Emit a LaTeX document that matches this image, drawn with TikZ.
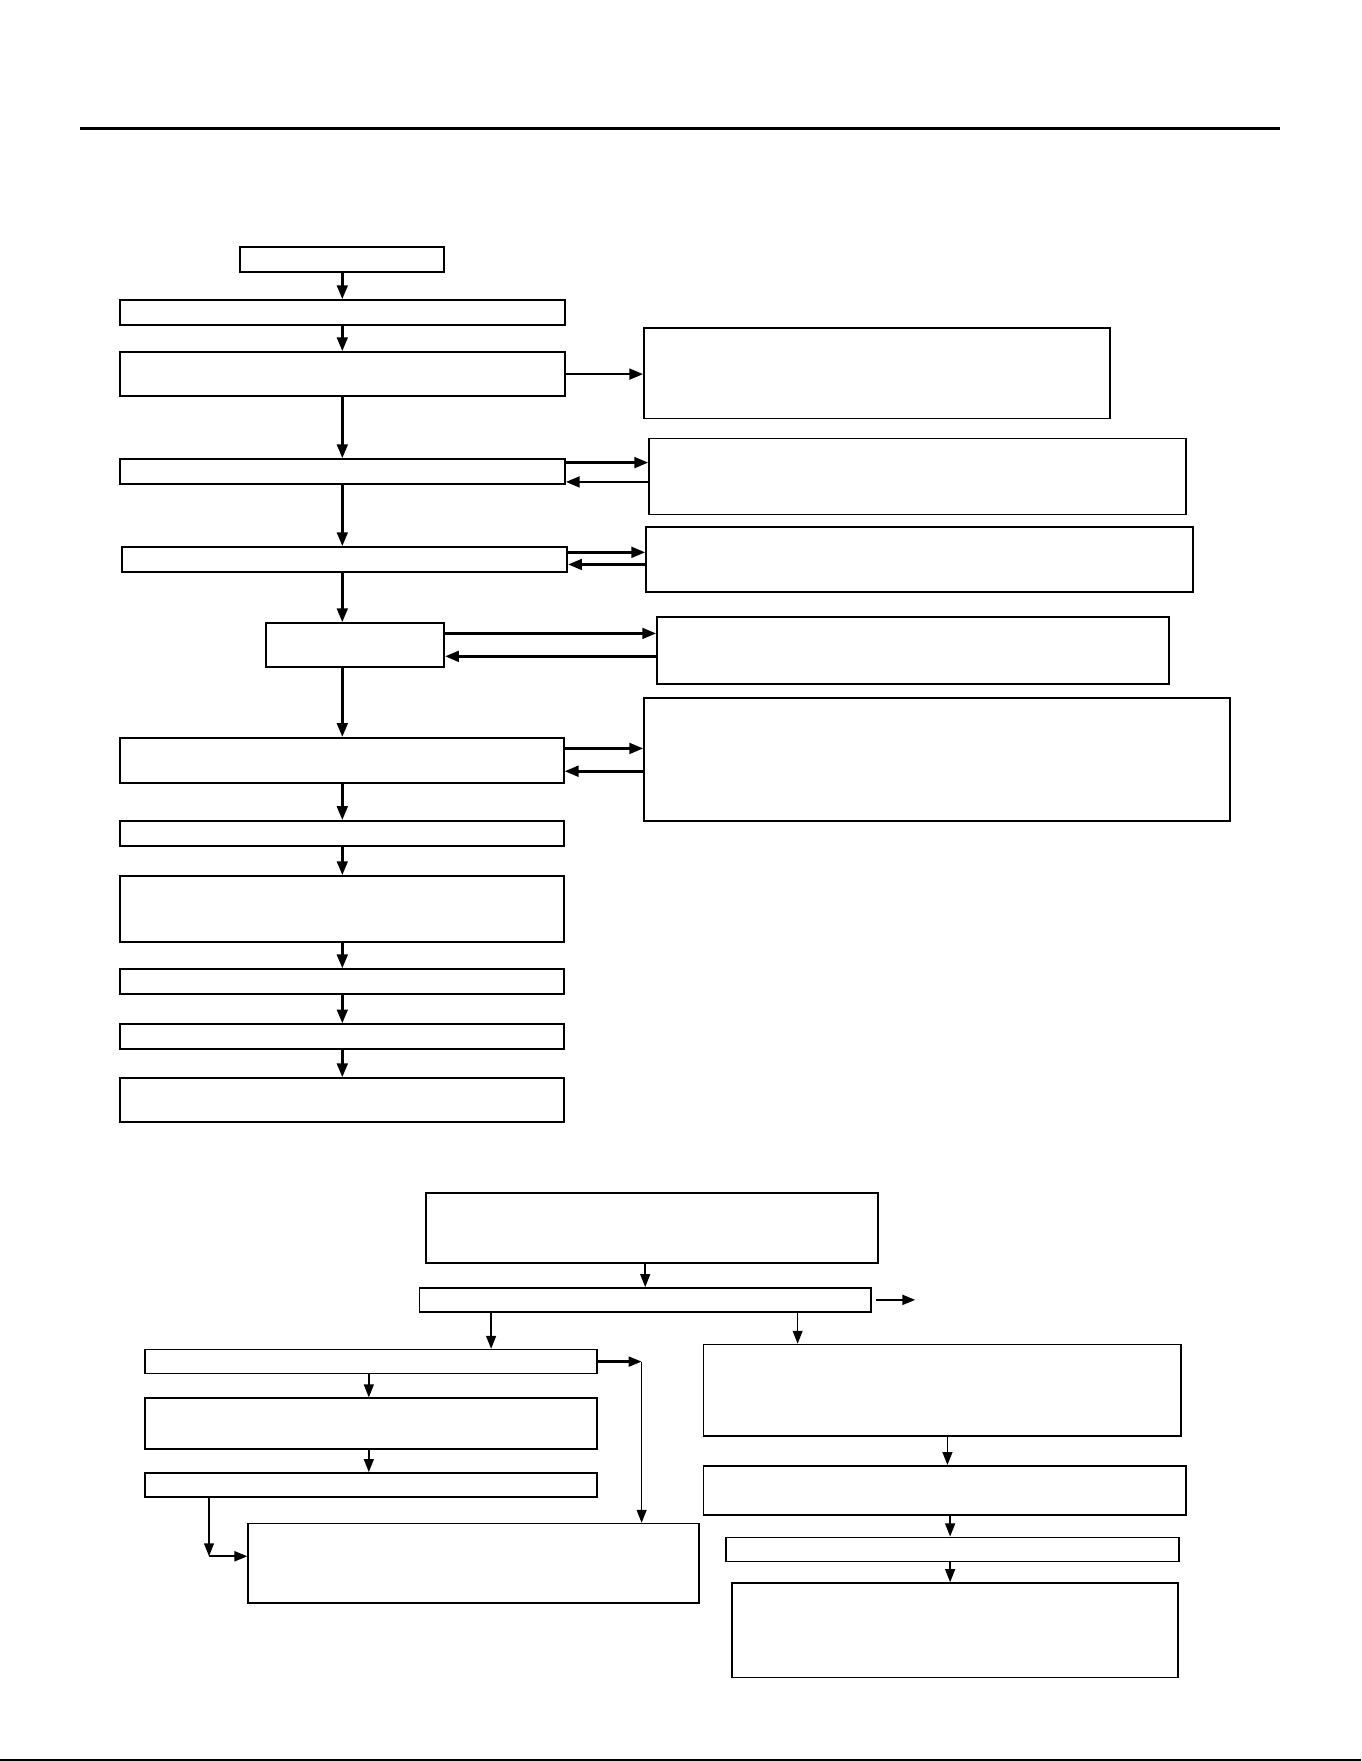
\documentclass[tikz,border=0pt]{standalone}
\usepackage{tikz}
\usetikzlibrary{arrows.meta}

\begin{document}
\begin{tikzpicture}[x=0.02cm, y=-0.02cm]
\tikzstyle{every node}=[draw, shape=rectangle, inner sep=0pt, line width=0.95pt];
\tikzstyle{arr}=[line width=1.35pt, -{Triangle[length=7pt,width=5.4pt]}];
\tikzstyle{tarr}=[line width=0.8pt, -{Triangle[length=6.6pt,width=5pt]}];
\useasboundingbox (0,0) rectangle (1212,1568);
\draw [line width=1.55pt] (71,114.5) -- (1140,114.5);
\draw [line width=0.7pt] (0,1567) -- (1212,1567);
\coordinate (axis) at (304.8,0);
% main column
\node [minimum width=3.64cm, minimum height=0.44cm] (b1) at (304.6,231) {};
\node [minimum width=7.92cm, minimum height=0.444cm] (b2) at (305,278.3) {};
\node [minimum width=7.92cm, minimum height=0.784cm] (b3) at (305,333.1) {};
\node [minimum width=7.92cm, minimum height=0.444cm] (b4) at (305,419.9) {};
\node [minimum width=7.93cm, minimum height=0.446cm] (b5) at (306.8,498.2) {};
\node [minimum width=3.17cm, minimum height=0.784cm] (b6) at (316.2,574.4) {};
\node [minimum width=7.9cm, minimum height=0.8cm] (b7) at (304.5,677) {};
\node [minimum width=7.9cm, minimum height=0.44cm] (b8) at (304.5,742) {};
\node [minimum width=7.9cm, minimum height=1.18cm] (b9) at (304.5,809.5) {};
\node [minimum width=7.9cm, minimum height=0.44cm] (b10) at (304.5,874) {};
\node [minimum width=7.9cm, minimum height=0.44cm] (b11) at (304.5,923) {};
\node [minimum width=7.9cm, minimum height=0.78cm] (b12) at (304.5,979.5) {};
% side boxes
\node [minimum width=8.3cm, minimum height=1.612cm] (r1) at (781,332.3) {};
\node [minimum width=9.56cm, minimum height=1.354cm] (r2) at (817,424.25) {};
\node [minimum width=9.742cm, minimum height=1.166cm] (r3) at (818.85,498.15) {};
\node [minimum width=9.12cm, minimum height=1.192cm] (r4) at (813,579.5) {};
\node [minimum width=10.44cm, minimum height=2.196cm] (r5) at (834.5,676.1) {};
\foreach \a/\b in {b1/b2,b2/b3,b3/b4,b4/b5,b5/b6,b6/b7,b7/b8,b8/b9,b9/b10,b10/b11,b11/b12}
  \draw [arr] (axis |- \a.south) -- (axis |- \b.north);
\draw [arr] (b3.east) -- (b3.east -| r1.west);
\draw [arr] (b4.east |- 0,411.9) -- (r2.west |- 0,411.9);
\draw [arr] (r2.west |- 0,429.1) -- (b4.east |- 0,429.1);
\draw [arr] (b5.east |- 0,491.8) -- (r3.west |- 0,491.8);
\draw [arr] (r3.west |- 0,502.6) -- (b5.east |- 0,502.6);
\draw [arr] (b6.east |- 0,564) -- (r4.west |- 0,564);
\draw [arr] (r4.west |- 0,584.4) -- (b6.east |- 0,584.4);
\draw [arr] (b7.east |- 0,666.4) -- (r5.west |- 0,666.4);
\draw [arr] (r5.west |- 0,686.7) -- (b7.east |- 0,686.7);
% lower chart
\tikzstyle{every node}=[draw, shape=rectangle, inner sep=0pt, line width=0.8pt];
\node [minimum width=8.05cm, minimum height=1.248cm] (c1) at (580.75,1093.3) {};
\node [minimum width=8.048cm, minimum height=0.428cm] (c2) at (574.5,1157.4) {};
\node [minimum width=8.056cm, minimum height=0.426cm] (l1) at (330.4,1212.35) {};
\node [minimum width=8.056cm, minimum height=0.902cm] (l2) at (330.4,1267.55) {};
\node [minimum width=8.056cm, minimum height=0.426cm] (l3) at (330.4,1322.15) {};
\node [minimum width=8.03cm, minimum height=1.418cm] (l4) at (421.75,1392.05) {};
\node [minimum width=8.5cm, minimum height=1.632cm] (m1) at (838.9,1238) {};
\node [minimum width=8.596cm, minimum height=0.88cm] (m2) at (841.3,1327.2) {};
\node [minimum width=8.074cm, minimum height=0.428cm] (m3) at (848.15,1379.5) {};
\node [minimum width=7.938cm, minimum height=1.68cm] (m4) at (850.35,1451.5) {};
\coordinate (exit) at (815,1157.4);
\coordinate (jog) at (571.3,1212.35);
\coordinate (bend) at (186.1,1385.7);
\draw [tarr] (c2.north |- c1.south) -- (c2.north);
\draw [tarr, line width=1.2pt] ([xshift=0.07cm]c2.east) -- (exit);
\draw [tarr] (c2.south -| 437.3,0) -- (l1.north -| 437.3,0);
\draw [tarr] (c2.south -| 710.2,0) -- (m1.north -| 710.2,0);
\draw [tarr] (l1.south -| 328.4,0) -- (l2.north -| 328.4,0);
\draw [tarr] (l2.south -| 328.4,0) -- (l3.north -| 328.4,0);
\draw [tarr, line width=1.2pt] (l1.east) -- (jog);
\draw [tarr] (jog) -- (jog |- l4.north);
\draw [tarr] (l3.south -| bend) -- (bend);
\draw [tarr, line width=1.2pt] (bend) -- (bend -| l4.west);
\draw [tarr] (m1.south -| 843.6,0) -- (m2.north -| 843.6,0);
\draw [tarr] (m2.south -| 846,0) -- (m3.north -| 846,0);
\draw [tarr] (m3.south -| 846,0) -- (m4.north -| 846,0);
\end{tikzpicture}
\end{document}
